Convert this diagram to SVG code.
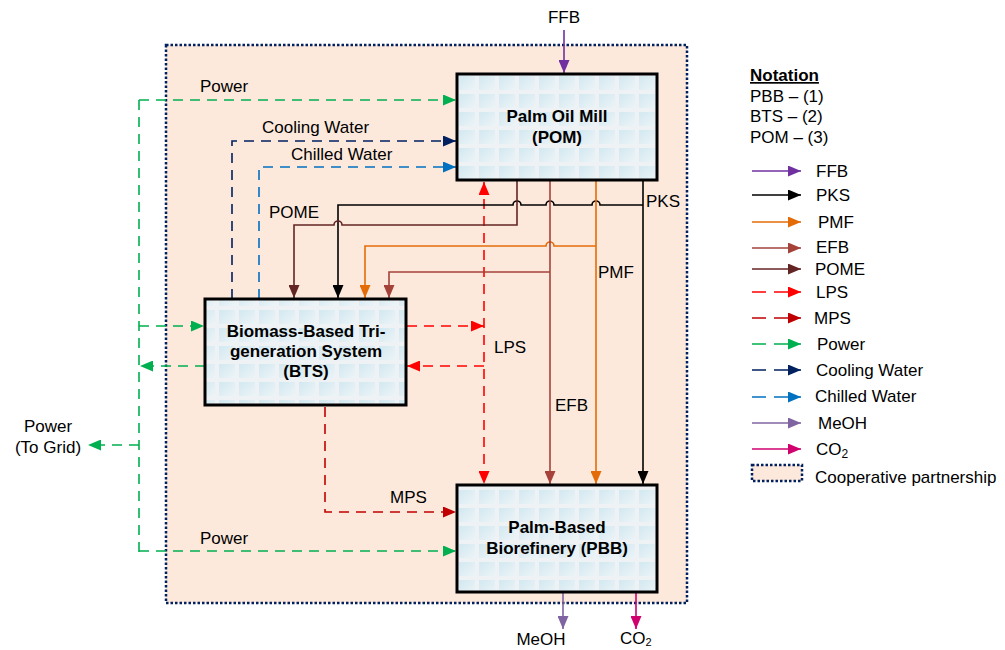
<svg xmlns="http://www.w3.org/2000/svg" width="1005" height="650" viewBox="0 0 1005 650">
<defs>
<style>
text{font-family:"Liberation Sans",Arial,sans-serif;font-size:17px;fill:#000}
.b{font-weight:bold}
.box{fill:url(#tile);stroke:#000;stroke-width:3}
.ln{fill:none;stroke-width:1.6}
.d{stroke-dasharray:10 7}
.ld{stroke-dasharray:14 8}
.ffb{stroke:#7030a0}.pks{stroke:#000}.pmf{stroke:#e36c09}.efb{stroke:#a5423a}.pome{stroke:#632523}
.lps{stroke:#ff0000}.mps{stroke:#c00000}.pw{stroke:#00b050}.cw{stroke:#002060}.chw{stroke:#0070c0}
.meoh{stroke:#8064a2}.co2{stroke:#d0006f}
</style>
<linearGradient id="cg" x1="0" y1="0" x2="1" y2="1">
<stop offset="0" stop-color="#d2e8f0"/><stop offset="1" stop-color="#ecf4f7"/>
</linearGradient>
<pattern id="tile" patternUnits="userSpaceOnUse" x="457" y="74" width="20" height="18">
<rect width="20" height="18" fill="#eef2f4"/>
<rect x="2" y="2" width="16" height="14" fill="url(#cg)"/>
</pattern>
<marker id="aFFB" markerUnits="userSpaceOnUse" markerWidth="14" markerHeight="11" refX="13" refY="5.5" orient="auto"><path d="M0,0L13,5.5L0,11z" fill="#7030a0"/></marker>
<marker id="aPKS" markerUnits="userSpaceOnUse" markerWidth="14" markerHeight="11" refX="13" refY="5.5" orient="auto"><path d="M0,0L13,5.5L0,11z" fill="#000"/></marker>
<marker id="aPMF" markerUnits="userSpaceOnUse" markerWidth="14" markerHeight="11" refX="13" refY="5.5" orient="auto"><path d="M0,0L13,5.5L0,11z" fill="#e36c09"/></marker>
<marker id="aEFB" markerUnits="userSpaceOnUse" markerWidth="14" markerHeight="11" refX="13" refY="5.5" orient="auto"><path d="M0,0L13,5.5L0,11z" fill="#a5423a"/></marker>
<marker id="aPOME" markerUnits="userSpaceOnUse" markerWidth="14" markerHeight="11" refX="13" refY="5.5" orient="auto"><path d="M0,0L13,5.5L0,11z" fill="#632523"/></marker>
<marker id="aLPS" markerUnits="userSpaceOnUse" markerWidth="14" markerHeight="11" refX="13" refY="5.5" orient="auto-start-reverse"><path d="M0,0L13,5.5L0,11z" fill="#ff0000"/></marker>
<marker id="aMPS" markerUnits="userSpaceOnUse" markerWidth="14" markerHeight="11" refX="13" refY="5.5" orient="auto"><path d="M0,0L13,5.5L0,11z" fill="#c00000"/></marker>
<marker id="aPW" markerUnits="userSpaceOnUse" markerWidth="14" markerHeight="11" refX="13" refY="5.5" orient="auto"><path d="M0,0L13,5.5L0,11z" fill="#00b050"/></marker>
<marker id="aCW" markerUnits="userSpaceOnUse" markerWidth="14" markerHeight="11" refX="13" refY="5.5" orient="auto"><path d="M0,0L13,5.5L0,11z" fill="#002060"/></marker>
<marker id="aCHW" markerUnits="userSpaceOnUse" markerWidth="14" markerHeight="11" refX="13" refY="5.5" orient="auto"><path d="M0,0L13,5.5L0,11z" fill="#0070c0"/></marker>
<marker id="aMEOH" markerUnits="userSpaceOnUse" markerWidth="14" markerHeight="11" refX="13" refY="5.5" orient="auto"><path d="M0,0L13,5.5L0,11z" fill="#8064a2"/></marker>
<marker id="aCO2" markerUnits="userSpaceOnUse" markerWidth="14" markerHeight="11" refX="13" refY="5.5" orient="auto"><path d="M0,0L13,5.5L0,11z" fill="#d0006f"/></marker>
</defs>

<rect width="1005" height="650" fill="#fff"/>

<g id="partnership">
<rect x="166" y="45" width="521" height="558" fill="#fde9dc" stroke="#002060" stroke-width="2.5" stroke-dasharray="2.5 2"/>
</g>

<g id="connectors">
<path class="ln ffb" d="M564,30L564,73" marker-end="url(#aFFB)"/>
<path class="ln pw d" d="M139,100L139,552"/>
<path class="ln pw d" d="M139,100L456,100" marker-end="url(#aPW)"/>
<path class="ln pw d" d="M139,326L204,326" marker-end="url(#aPW)"/>
<path class="ln pw d" d="M205,366L140,366" marker-end="url(#aPW)"/>
<path class="ln pw d" d="M139,445L88,445" marker-end="url(#aPW)"/>
<path class="ln pw d" d="M139,551L456,551" marker-end="url(#aPW)"/>
<path class="ln cw d" d="M232,299L232,141L456,141" marker-end="url(#aCW)"/>
<path class="ln chw d" d="M259,299L259,167L456,167" marker-end="url(#aCHW)"/>
<path class="ln lps d" d="M484,182L484,484" marker-start="url(#aLPS)" marker-end="url(#aLPS)"/>
<path class="ln lps d" d="M407,326L484,326" marker-end="url(#aLPS)"/>
<path class="ln lps d" d="M484,366L407,366" marker-end="url(#aLPS)"/>
<path class="ln mps d" d="M325,407L325,512L456,512" marker-end="url(#aMPS)"/>
<path class="ln pks" d="M643,181L643,484" marker-end="url(#aPKS)"/>
<path class="ln pks" d="M643,205L600,205A4,4 0 0 0 592,205L554,205A4,4 0 0 0 546,205L521,205A4,4 0 0 0 513,205L338,205L338,298" marker-end="url(#aPKS)"/>
<path class="ln pome" d="M517,181L517,225L342,225A4,4 0 0 0 334,225L294,225L294,298" marker-end="url(#aPOME)"/>
<path class="ln pmf" d="M596,181L596,484" marker-end="url(#aPMF)"/>
<path class="ln pmf" d="M596,246L554,246A4,4 0 0 0 546,246L365,246L365,298" marker-end="url(#aPMF)"/>
<path class="ln efb" d="M550,181L550,484" marker-end="url(#aEFB)"/>
<path class="ln efb" d="M550,272L389,272L389,298" marker-end="url(#aEFB)"/>
<path class="ln meoh" d="M563,593L563,629" marker-end="url(#aMEOH)"/>
<path class="ln co2" d="M636,593L636,629" marker-end="url(#aCO2)"/>
</g>

<g id="connector-labels">
<text x="564" y="23" text-anchor="middle">FFB</text>
<text x="200" y="92">Power</text>
<text x="262" y="133">Cooling Water</text>
<text x="291" y="160">Chilled Water</text>
<text x="269" y="218">POME</text>
<text x="646" y="207">PKS</text>
<text x="598" y="278">PMF</text>
<text x="494" y="353">LPS</text>
<text x="555" y="411">EFB</text>
<text x="390" y="503">MPS</text>
<text x="200" y="544">Power</text>
<text x="48" y="432" text-anchor="middle">Power</text>
<text x="48" y="453" text-anchor="middle">(To Grid)</text>
<text x="541" y="645" text-anchor="middle">MeOH</text>
<text x="620" y="644">CO<tspan font-size="11" dy="2">2</tspan></text>
</g>

<g id="POM">
<rect class="box" x="457" y="74" width="200" height="106"/>
<text class="b" x="557" y="122" text-anchor="middle">Palm Oil Mill</text>
<text class="b" x="557" y="143" text-anchor="middle">(POM)</text>
</g>

<g id="BTS">
<rect class="box" x="205" y="299" width="201" height="106"/>
<text class="b" x="306" y="337" text-anchor="middle">Biomass-Based Tri-</text>
<text class="b" x="306" y="357" text-anchor="middle">generation System</text>
<text class="b" x="306" y="377" text-anchor="middle">(BTS)</text>
</g>

<g id="PBB">
<rect class="box" x="457" y="485" width="200" height="107"/>
<text class="b" x="557" y="533" text-anchor="middle">Palm-Based</text>
<text class="b" x="557" y="554" text-anchor="middle">Biorefinery (PBB)</text>
</g>

<g id="legend">
<text class="b" x="750" y="81" text-decoration="underline">Notation</text>
<text x="750" y="102">PBB – (1)</text>
<text x="750" y="122">BTS – (2)</text>
<text x="750" y="143">POM – (3)</text>
<path class="ln ffb" d="M752,171L801,171" marker-end="url(#aFFB)"/>
<text x="816" y="177">FFB</text>
<path class="ln pks" d="M752,195L801,195" marker-end="url(#aPKS)"/>
<text x="816" y="201">PKS</text>
<path class="ln pmf" d="M752,222L801,222" marker-end="url(#aPMF)"/>
<text x="818" y="228">PMF</text>
<path class="ln efb" d="M752,248L801,248" marker-end="url(#aEFB)"/>
<text x="816" y="253">EFB</text>
<path class="ln pome" d="M752,269L801,269" marker-end="url(#aPOME)"/>
<text x="815" y="275">POME</text>
<path class="ln lps ld" d="M752,292L801,292" marker-end="url(#aLPS)"/>
<text x="816" y="298">LPS</text>
<path class="ln mps ld" d="M752,318L801,318" marker-end="url(#aMPS)"/>
<text x="814" y="324">MPS</text>
<path class="ln pw ld" d="M752,344L801,344" marker-end="url(#aPW)"/>
<text x="817" y="350">Power</text>
<path class="ln cw ld" d="M752,370L801,370" marker-end="url(#aCW)"/>
<text x="816" y="376">Cooling Water</text>
<path class="ln chw ld" d="M752,397L801,397" marker-end="url(#aCHW)"/>
<text x="815" y="402">Chilled Water</text>
<path class="ln meoh" d="M752,423L801,423" marker-end="url(#aMEOH)"/>
<text x="818" y="429">MeOH</text>
<path class="ln co2" d="M752,449L801,449" marker-end="url(#aCO2)"/>
<text x="816" y="455">CO<tspan font-size="12" dy="3">2</tspan></text>
<rect x="752" y="465" width="50" height="16" fill="#fde9dc" stroke="#002060" stroke-width="2.5" stroke-dasharray="2.5 2"/>
<text x="815" y="483">Cooperative partnership</text>
</g>
</svg>
